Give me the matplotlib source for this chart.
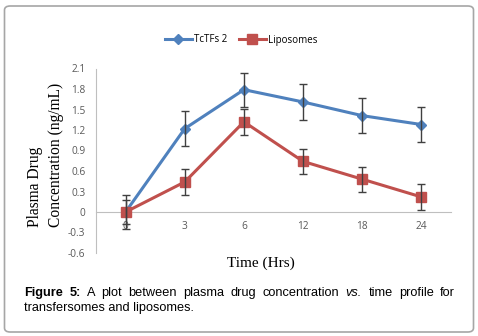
import numpy as np
import matplotlib.pyplot as plt
from matplotlib.patches import FancyBboxPatch
from matplotlib.lines import Line2D

times = ["0", "3", "6", "12", "18", "24"]
tctfs = [0.0, 1.22, 1.79, 1.61, 1.41, 1.28]
tctfs_err = [0.25, 0.26, 0.25, 0.26, 0.26, 0.26]
lipo = [0.0, 0.44, 1.32, 0.74, 0.48, 0.22]
lipo_err = [0.18, 0.19, 0.19, 0.18, 0.18, 0.19]
yticks = [-0.6, -0.3, 0, 0.3, 0.6, 0.9, 1.2, 1.5, 1.8, 2.1]

blue = "#4F81BD"
red = "#C0504D"
W, H = 478, 336

fig = plt.figure(figsize=(W / 100, H / 100), dpi=100)

# outer rounded frame
box = FancyBboxPatch((4.5 / W, 1 - 332 / H), 469 / W, 326 / H,
                     boxstyle="round,pad=0,rounding_size=0.012",
                     transform=fig.transFigure, fc="none", ec="#A6A6A6", lw=1.2,
                     zorder=-1)
fig.patches.append(box)

ax = fig.add_axes([96 / W, 1 - 253 / H, 355 / W, 184.5 / H])
ax.patch.set_alpha(0)
x = np.arange(len(times))

ax.plot(x, tctfs, color=blue, lw=2.2, marker="D", ms=5, zorder=3)
ax.plot(x, lipo, color=red, lw=2.2, marker="s", ms=7.5, zorder=3)
ax.errorbar(x, tctfs, yerr=tctfs_err, fmt="none", ecolor="#404040",
            elinewidth=1, capsize=3, capthick=1, zorder=4)
ax.errorbar(x, lipo, yerr=lipo_err, fmt="none", ecolor="#404040",
            elinewidth=1, capsize=3, capthick=1, zorder=4)

ax.set_xlim(-0.5, 5.5)
ax.set_ylim(-0.6, 2.1)
ax.set_yticks(yticks)
ax.set_yticklabels([f"{v:g}" for v in yticks])
ax.set_xticks(x)
ax.set_xticklabels(times)
for s in ["top", "right"]:
    ax.spines[s].set_visible(False)
ax.spines["left"].set_color("#BFBFBF")
ax.spines["bottom"].set_color("#BFBFBF")
ax.spines["bottom"].set_position(("data", 0))
ax.tick_params(length=0, labelsize=7.3, labelcolor="#595959")
ax.tick_params(axis="y", pad=7.5)
ax.tick_params(axis="x", pad=6.5)
for lab in ax.get_xticklabels() + ax.get_yticklabels():
    lab.set_family("Open Sans")

handles = [Line2D([], [], color=blue, lw=2.2, marker="D", ms=5),
           Line2D([], [], color=red, lw=2.2, marker="s", ms=7.5)]
fig.legend(handles, ["TcTFs 2", "Liposomes"], loc="center",
           bbox_to_anchor=(241 / W, 1 - 40 / H), ncol=2, frameon=False,
           prop={"family": "Open Sans", "size": 7}, handlelength=2.8,
           handletextpad=0.2, columnspacing=1.2, numpoints=1)

fig.text(45.5 / W, 1 - 227 / H, "Plasma Drug\nConcentration (ng/mL)", rotation=90,
         ha="center", va="bottom", multialignment="left", linespacing=1.35,
         family="Liberation Serif", fontsize=11.2)
fig.text(261 / W, 1 - 263 / H, "Time (Hrs)", ha="center", va="center",
         family="Liberation Serif", fontsize=11)

# caption, first line justified
words = [("Figure", "bold", "normal"), ("5:", "bold", "normal"), ("A", "normal", "normal"),
         ("plot", "normal", "normal"), ("between", "normal", "normal"),
         ("plasma", "normal", "normal"), ("drug", "normal", "normal"),
         ("concentration", "normal", "normal"), ("vs.", "normal", "italic"),
         ("time", "normal", "normal"), ("profile", "normal", "normal"),
         ("for", "normal", "normal")]
fig.canvas.draw()
renderer = fig.canvas.get_renderer()
x0, x1 = 24, 455
y1 = 1 - 293 / H
texts = []
total = 0
for w, wt, st in words:
    t = fig.text(0, y1, w, fontsize=9.2, family="Liberation Sans", weight=wt,
                 style=st, va="center", ha="left")
    wd = t.get_window_extent(renderer).width
    texts.append((t, wd))
    total += wd
gap = (x1 - x0 - total) / (len(words) - 1)
cx = x0
for t, wd in texts:
    t.set_x(cx / W)
    cx += wd + gap
fig.text(x0 / W, 1 - 308.5 / H, "transfersomes and liposomes.", fontsize=9.2,
         family="Liberation Sans", va="center", ha="left")

fig.savefig("out.png", dpi=100)
